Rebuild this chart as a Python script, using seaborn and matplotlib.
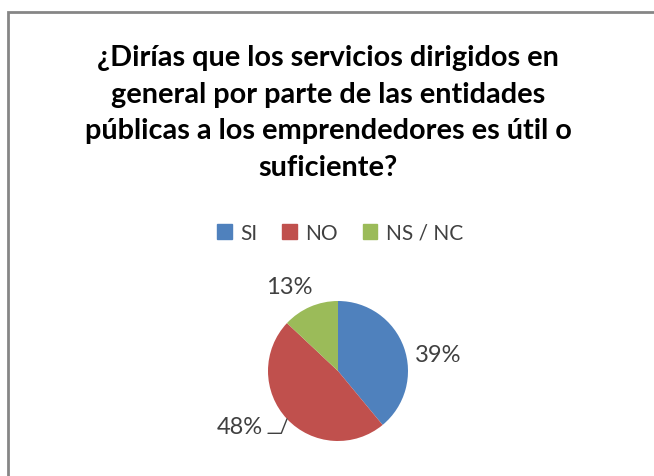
import matplotlib
matplotlib.use('Agg')
import matplotlib.pyplot as plt
import matplotlib.patches as mpatches
import seaborn as sns
import numpy as np

# datos
categorias = ['SI', 'NO', 'NS / NC']
porcentajes = [39, 48, 13]
colores = ['#4F81BD', '#C0504D', '#9BBB59']
titulo = ('¿Dirías que los servicios dirigidos en\n'
          'general por parte de las entidades\n'
          'públicas a los emprendedores es útil o\n'
          'suficiente?')

sns.set_theme(style='white')
plt.rcParams['font.family'] = ['Lato', 'DejaVu Sans']

W, H = 654, 477
fig = plt.figure(figsize=(W / 100, H / 100), dpi=100)
fig.patch.set_facecolor('white')

# marco del grafico (se sale por la derecha y abajo)
fig.add_artist(mpatches.Rectangle((8 / W, -0.1), 1.2, (H - 13) / H + 0.1,
                                  transform=fig.transFigure, fill=False,
                                  edgecolor='#868686', linewidth=2))

fig.text(328 / W, 1 - 45 / H, titulo, ha='center', va='top', fontsize=20.8,
         fontweight='bold', color='black', linespacing=1.5)

# pie: centro (338, 372), radio 70 px
r = 70
ax = fig.add_axes([(338 - r) / W, (H - 372 - r) / H, 2 * r / W, 2 * r / H])
wedges, _ = ax.pie(porcentajes, colors=colores, startangle=90, counterclock=False,
                   radius=1, wedgeprops=dict(linewidth=0))
ax.set_xlim(-1, 1)
ax.set_ylim(-1, 1)
ax.set_aspect('auto')
ax.axis('off')

# etiquetas
for w, p in zip(wedges, porcentajes):
    ang = np.deg2rad((w.theta1 + w.theta2) / 2)
    x, y = np.cos(ang), np.sin(ang)
    if p == 39:
        ax.text(1.43, 0.23, f'{p}%', ha='center', va='center', fontsize=17, color='#404040', clip_on=False)
    elif p == 13:
        ax.text(-0.69, 1.2, f'{p}%', ha='center', va='center', fontsize=17, color='#404040', clip_on=False)
    else:
        ax.text(-1.4, -0.79, f'{p}%', ha='center', va='center', fontsize=17, color='#404040', clip_on=False)
        ax.plot([x * 1.0, -0.81, -1.0], [y * 1.0, -0.89, -0.89], color='#404040', lw=1, clip_on=False)

handles = [mpatches.Patch(color=c, label=l) for c, l in zip(colores, categorias)]
fig.legend(handles=handles, loc='center', bbox_to_anchor=(340 / W, 1 - 234 / H), ncol=3,
           frameon=False, fontsize=15, handlelength=0.7, handleheight=0.7,
           handletextpad=0.4, columnspacing=1.2, labelcolor='#404040')

fig.savefig('out.png', dpi=100, facecolor='white')
